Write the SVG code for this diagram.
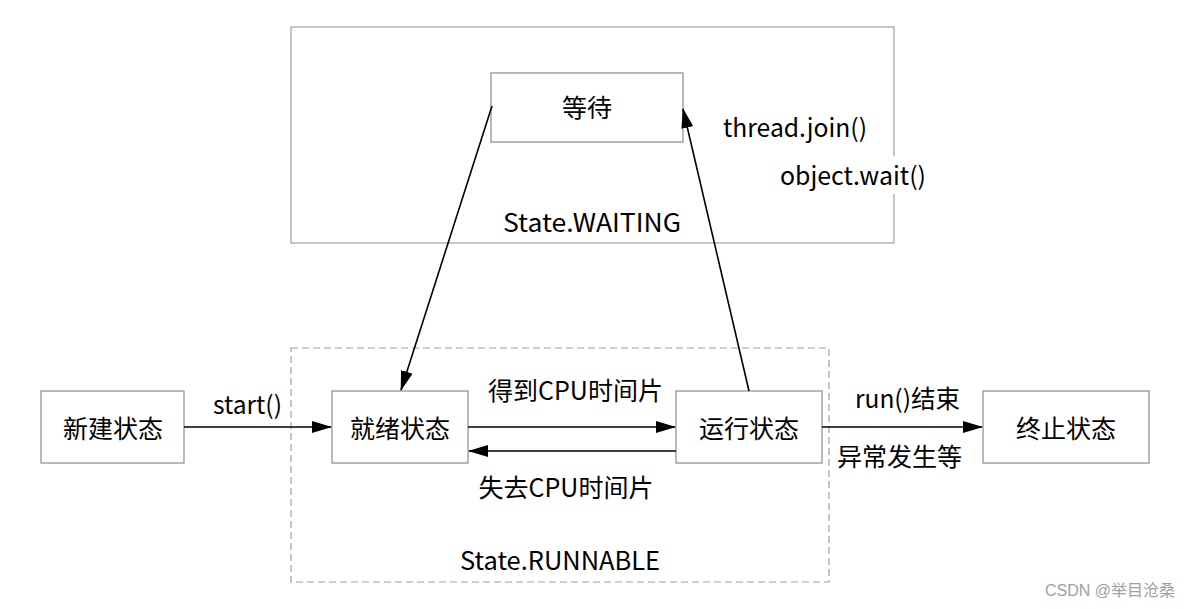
<svg xmlns="http://www.w3.org/2000/svg" width="1190" height="609" viewBox="0 0 1190 609">
<style>
.box{fill:#fff;stroke:#8c8c8c;stroke-width:1.2}
.t{font-family:"Noto Sans CJK SC","Noto Sans",sans-serif;font-size:25px;fill:#000;text-anchor:middle;dominant-baseline:central}
.ln{stroke:#000;stroke-width:1.6;fill:none}
</style>
<defs>
<marker id="ah" markerWidth="20" markerHeight="12" refX="19" refY="6" orient="auto" markerUnits="userSpaceOnUse">
<path d="M0,0 L20,6 L0,12 Z" fill="#000"/>
</marker>
</defs>
<rect width="1190" height="609" fill="#fff"/>
<g id="waiting-group">
<rect x="291" y="27" width="603" height="216" fill="none" stroke="#a0a0a0" stroke-width="1.2"/>
<text class="t" x="592" y="221" textLength="178" lengthAdjust="spacingAndGlyphs">State.WAITING</text>
</g>
<g id="runnable-group">
<rect x="291" y="348" width="538" height="234" fill="none" stroke="#a0a0a0" stroke-width="1.2" stroke-dasharray="7,4"/>
<text class="t" x="560" y="559" textLength="200" lengthAdjust="spacingAndGlyphs">State.RUNNABLE</text>
</g>
<g id="wait">
<rect class="box" x="491" y="73" width="192" height="69"/>
<text class="t" x="587" y="106">等待</text>
</g>
<g id="new">
<rect class="box" x="41" y="391" width="143" height="72"/>
<text class="t" x="113" y="427">新建状态</text>
</g>
<g id="ready">
<rect class="box" x="332" y="391" width="136" height="72"/>
<text class="t" x="400" y="427">就绪状态</text>
</g>
<g id="running">
<rect class="box" x="676" y="391" width="146" height="72"/>
<text class="t" x="749" y="427">运行状态</text>
</g>
<g id="terminated">
<rect class="box" x="983" y="391" width="166" height="72"/>
<text class="t" x="1066" y="427">终止状态</text>
</g>
<g id="connectors">
<line class="ln" x1="184" y1="427" x2="331" y2="427" marker-end="url(#ah)"/>
<line class="ln" x1="468" y1="427" x2="675" y2="427" marker-end="url(#ah)"/>
<line class="ln" x1="676" y1="451" x2="469" y2="451" marker-end="url(#ah)"/>
<line class="ln" x1="822" y1="427" x2="982" y2="427" marker-end="url(#ah)"/>
<line class="ln" x1="492" y1="106" x2="401" y2="390" marker-end="url(#ah)"/>
<line class="ln" x1="749" y1="391" x2="683" y2="109" marker-end="url(#ah)"/>
<text class="t" x="247.5" y="403" textLength="69" lengthAdjust="spacingAndGlyphs">start()</text>
<text class="t" x="575.5" y="389" textLength="175" lengthAdjust="spacingAndGlyphs">得到CPU时间片</text>
<text class="t" x="566" y="486" textLength="175" lengthAdjust="spacingAndGlyphs">失去CPU时间片</text>
<text class="t" x="907.5" y="397" textLength="105" lengthAdjust="spacingAndGlyphs">run()结束</text>
<text class="t" x="899.5" y="455">异常发生等</text>
<text class="t" x="795" y="126" textLength="144" lengthAdjust="spacingAndGlyphs">thread.join()</text>
<rect x="776" y="156" width="154" height="38" fill="#fff"/>
<text class="t" x="853" y="174" textLength="146" lengthAdjust="spacingAndGlyphs">object.wait()</text>
</g>
<text x="1175" y="590" font-family="Liberation Sans,'Noto Sans CJK SC',sans-serif" font-size="16" fill="#a0a0a0" text-anchor="end" dominant-baseline="central">CSDN @举目沧桑</text>
</svg>
